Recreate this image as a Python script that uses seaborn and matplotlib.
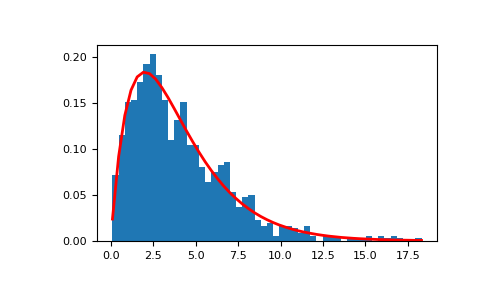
import numpy as np
import pandas as pd
import matplotlib
matplotlib.use("Agg")
import matplotlib.pyplot as plt
import seaborn as sns

# Histogram (density) heights, 50 bins from 0.1 to 18.3
bin_lo, bin_hi, n_bins = 0.1, 18.3, 50
density = [
    0.0714, 0.1154, 0.1511, 0.1538, 0.1731, 0.1923, 0.2033, 0.1813, 0.1538, 0.1099,
    0.1319, 0.1511, 0.1044, 0.1044, 0.0810, 0.0640, 0.0750, 0.0824, 0.0860, 0.0533,
    0.0367, 0.0474, 0.0497, 0.0232, 0.0165, 0.0199, 0.0055, 0.0165, 0.0165, 0.0137,
    0.0082, 0.0165, 0.0055, 0.0000, 0.0055, 0.0055, 0.0055, 0.0000, 0.0027, 0.0027,
    0.0027, 0.0055, 0.0000, 0.0055, 0.0027, 0.0055, 0.0027, 0.0000, 0.0000, 0.0027,
]

# Red fitted curve, values at each bin edge (51 points)
curve = [
    0.0238, 0.0920, 0.1368, 0.1642, 0.1787, 0.1838, 0.1823, 0.1762, 0.1670, 0.1561,
    0.1441, 0.1318, 0.1196, 0.1079, 0.0967, 0.0862, 0.0766, 0.0678, 0.0597, 0.0525,
    0.0461, 0.0403, 0.0352, 0.0306, 0.0266, 0.0231, 0.0200, 0.0173, 0.0150, 0.0129,
    0.0111, 0.0096, 0.0083, 0.0071, 0.0061, 0.0052, 0.0045, 0.0038, 0.0033, 0.0028,
    0.0024, 0.0021, 0.0018, 0.0015, 0.0013, 0.0011, 0.0009, 0.0008, 0.0007, 0.0006,
    0.0005,
]

edges = np.linspace(bin_lo, bin_hi, n_bins + 1)
centers = (edges[:-1] + edges[1:]) / 2
hist_df = pd.DataFrame({"x": centers, "w": density})
curve_df = pd.DataFrame({"x": edges, "y": curve})

plt.rcParams["font.family"] = ["DejaVu Sans"]
fig = plt.figure(figsize=(4.85, 3.0), dpi=100)
ax = fig.add_axes([0.2, 0.197, 0.701, 0.653])

sns.histplot(data=hist_df, x="x", weights="w", bins=n_bins,
             binrange=(bin_lo, bin_hi), stat="count",
             color="#1f77b4", alpha=1.0, linewidth=0, ax=ax)
sns.lineplot(data=curve_df, x="x", y="y", color="red", linewidth=2, ax=ax)

ax.set_ylabel("")
ax.set_xlabel("")
ax.margins(x=0.05)
ax.set_xticks([0.0, 2.5, 5.0, 7.5, 10.0, 12.5, 15.0, 17.5])
ax.set_yticks([0.0, 0.05, 0.10, 0.15, 0.20])
ax.set_yticklabels(["0.00", "0.05", "0.10", "0.15", "0.20"])
ax.tick_params(labelsize=8)
for s in ax.spines.values():
    s.set_visible(True)
    s.set_color("black")

fig.savefig("out.png", dpi=100)
